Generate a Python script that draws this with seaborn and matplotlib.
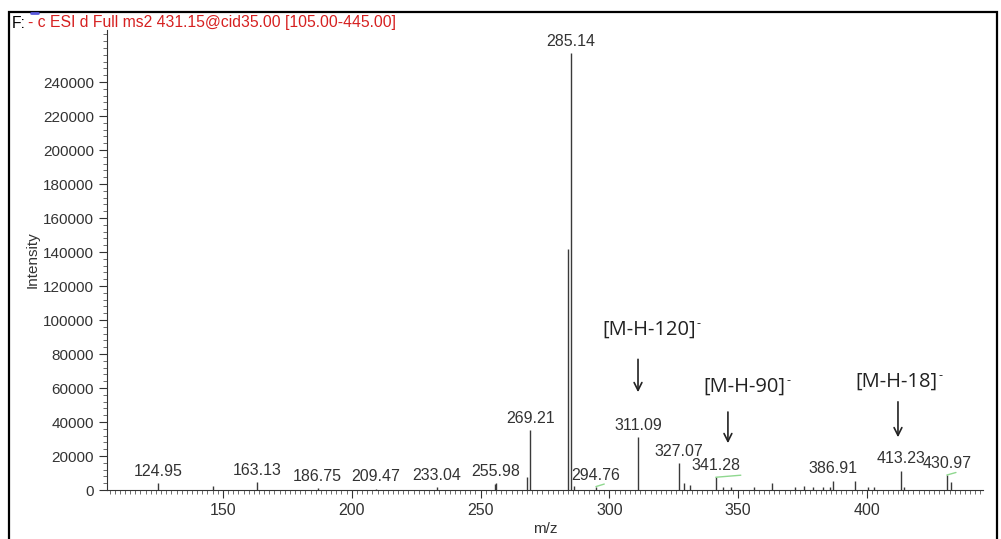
import numpy as np
import matplotlib
matplotlib.use("Agg")
import matplotlib.pyplot as plt
import seaborn as sns
from matplotlib.ticker import MultipleLocator, FixedLocator
from matplotlib.patches import Rectangle

# spectrum peaks (m/z, intensity)
mz = [124.95, 146.0, 163.13, 186.75, 209.47, 233.04, 255.5, 255.98, 268.2, 269.21,
      284.1, 285.14, 286.3, 294.76, 311.09, 327.07, 329.0, 331.3, 341.28, 344.0,
      347.0, 356.0, 363.0, 372.0, 375.5, 379.0, 383.0, 385.5, 386.91, 395.4,
      400.5, 402.5, 413.23, 414.5, 430.97, 432.5]
intensity = [4300, 2500, 4900, 1000, 800, 1500, 3500, 4000, 7800, 35300,
             141800, 257000, 2500, 1500, 31300, 16000, 4000, 3000, 7500, 2000,
             2000, 2000, 4300, 2000, 2500, 2000, 2000, 2000, 5500, 5500,
             1500, 1500, 11400, 1500, 8800, 4900]

labeled = [124.95, 163.13, 186.75, 209.47, 233.04, 255.98, 269.21, 285.14,
           294.76, 311.09, 327.07, 341.28, 386.91, 413.23, 430.97]

# small green segments (start m/z, end m/z, start int, end int)
green_x0 = [294.76, 341.28, 430.97]
green_x1 = [298.0, 351.0, 434.5]
green_y0 = [2000, 7500, 8800]
green_y1 = [3500, 8700, 10300]

# fragment annotations
frag_text = ["[M-H-120]", "[M-H-90]", "[M-H-18]"]
frag_mz = [311.1, 346.0, 412.0]
frag_text_x = [315.5, 352.5, 411.5]
frag_text_y = [94100, 60600, 63500]
frag_arrow_top = [78500, 47500, 53500]
frag_arrow_bot = [55900, 25900, 29400]

y_ticks = list(range(0, 240001, 20000))

sns.set_theme(style="ticks")
plt.rcParams["font.family"] = ["Liberation Sans", "DejaVu Sans"]

fig = plt.figure(figsize=(10.01, 5.39), dpi=100)
ax = fig.add_axes([107 / 1001, 1 - 490 / 539, (983 - 107) / 1001, (490 - 30) / 539])

ax.vlines(mz, 0, intensity, color="#3a3a3a", lw=1.0)
for x, y in zip(mz, intensity):
    if x in labeled:
        ax.annotate(f"{x:.2f}", (x, y), xytext=(0, 3), textcoords="offset points",
                    ha="center", va="bottom", fontsize=11.5, color="#333333")

for x0, x1, y0, y1 in zip(green_x0, green_x1, green_y0, green_y1):
    ax.plot([x0, x1], [y0, y1], color="#8fd88f", lw=1.0)

for t, xm, tx, ty, a0, a1 in zip(frag_text, frag_mz, frag_text_x, frag_text_y,
                                 frag_arrow_top, frag_arrow_bot):
    txt = ax.text(tx, ty, t, ha="center", va="center", fontsize=14.5, color="#222222",
                  family=["Open Sans", "DejaVu Sans"])
    ax.annotate("-", xy=(1, 0.8), xycoords=txt, ha="left", va="center",
                fontsize=9, color="#222222", family=["Open Sans", "DejaVu Sans"],
                xytext=(0.3, 0), textcoords="offset points")
    ax.annotate("", xy=(xm, a1), xytext=(xm, a0),
                arrowprops=dict(arrowstyle="->", color="#222222", lw=1.2,
                                mutation_scale=14))

ax.set_xlim(105, 445)
ax.set_ylim(0, 270600)
ax.xaxis.set_major_locator(MultipleLocator(50))
ax.xaxis.set_minor_locator(MultipleLocator(2))
ax.yaxis.set_major_locator(FixedLocator(y_ticks))
ax.yaxis.set_minor_locator(MultipleLocator(4000))
ax.tick_params(axis="both", which="major", labelsize=11.5, length=6, width=0.8,
               colors="#333333", direction="out")
ax.tick_params(axis="y", which="major", labelsize=11)
ax.tick_params(axis="both", which="minor", length=3, width=0.6, colors="#555555",
               direction="out")
ax.yaxis.set_major_formatter(matplotlib.ticker.FuncFormatter(lambda v, p: f"{int(v)}"))
sns.despine(ax=ax)
for s in ["left", "bottom"]:
    ax.spines[s].set_color("#333333")
    ax.spines[s].set_linewidth(0.8)

ax.set_xlabel("m/z", fontsize=11, color="#333333", labelpad=3)
ax.set_ylabel("Intensity", fontsize=11, color="#333333", labelpad=2)

# title line in red with black prefix
fig.text(12 / 1001, 1 - 23 / 539, "F:", fontsize=11.3, color="black", va="center")
fig.text(28 / 1001, 1 - 23 / 539, "- c ESI d Full ms2 431.15@cid35.00 [105.00-445.00]",
         fontsize=11.3, color="#d62020", va="center")
fig.add_artist(plt.Line2D([31 / 1001, 38 / 1001], [1 - 13 / 539, 1 - 13 / 539],
                          color="#5a5adc", lw=2))

# outer frame
fig.add_artist(Rectangle((9 / 1001, -0.01), (997 - 9) / 1001, 1 - 12 / 539 + 0.01,
                         transform=fig.transFigure, fill=False, ec="black", lw=1.6))

fig.savefig("out.png", dpi=100)
